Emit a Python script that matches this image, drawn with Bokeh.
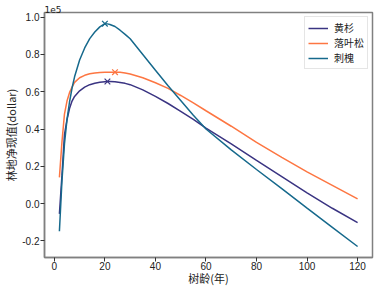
from bokeh.plotting import figure
from bokeh.models import Range1d, FixedTicker, CustomJSTickFormatter, Legend, LegendItem
from bokeh.embed import file_html
from bokeh.resources import INLINE

# ---- data (net present value of forest land, dollars) ----
ages = [2, 3, 4, 5, 6, 7, 8, 10, 12, 14, 16, 18, 20, 21, 22, 24, 26, 28, 30,
        35, 40, 45, 50, 55, 60, 70, 80, 90, 100, 110, 120]
huangshan = [-5500, 15000, 37000, 45000, 51000, 55000, 57500, 60500, 62500, 63800,
             64600, 65100, 65400, 65500, 65500, 65300, 65000, 64500, 63800,
             61000, 57500, 53700, 49500, 45200, 40500, 32000, 23200, 14500, 5800,
             -2500, -10200]
luoyesong = [14100, 33000, 48000, 55000, 59500, 62500, 65000, 67500, 68800, 69600,
             70000, 70300, 70400, 70450, 70500, 70500, 70400, 70000, 69500,
             67500, 64800, 61800, 58000, 54000, 49800, 41500, 32800, 24800, 17000,
             9800, 2500]
cihuai = [-14800, 12000, 32000, 45000, 54500, 62000, 68000, 77000, 83500, 88500,
          92000, 94800, 96500, 96400, 96100, 95000, 93000, 90800, 88400,
          80000, 71500, 63200, 55300, 47400, 40000, 28800, 18300, 8000, -2400,
          -12700, -23000]
peak_age = [21, 24, 20]
peak_val = [65500, 70500, 96500]

names = ["黄杉", "落叶松", "刺槐"]
colors = ["#3a3482", "#fd7642", "#16698c"]
y_ticks = [-20000, 0, 20000, 40000, 60000, 80000, 100000]
x_ticks = [0, 20, 40, 60, 80, 100, 120]

FONT = "Noto Sans CJK SC"
TICK_FONT = "Liberation Sans"

p = figure(width=375, height=288, output_backend="svg", toolbar_location=None,
           x_range=Range1d(-3.9, 125.9), y_range=Range1d(-28900, 102500),
           min_border_left=43, min_border_right=3, min_border_top=12,
           min_border_bottom=31, background_fill_color="white",
           border_fill_color="white")

p.title.text = "1e5"
p.title.align = "left"
p.title.text_font = "DejaVu Sans"
p.title.text_font_size = "9px"
p.title.text_font_style = "normal"
p.title.text_color = "#222222"
p.title.standoff = 0
p.title.offset = 0

p.xgrid.visible = False
p.ygrid.visible = False
p.outline_line_color = "#808080"
p.outline_line_width = 1.5

for ax in (p.xaxis[0], p.yaxis[0]):
    ax.axis_line_color = "#808080"
    ax.axis_line_width = 1.5
    ax.major_tick_line_color = "#333333"
    ax.major_tick_in = 0
    ax.major_tick_out = 4
    ax.minor_tick_line_color = None
    ax.major_label_text_font = TICK_FONT
    ax.major_label_text_font_size = "10px"
    ax.major_label_text_color = "#222222"
    ax.axis_label_text_font = FONT
    ax.axis_label_text_font_size = "11px"
    ax.axis_label_text_font_style = "normal"
    ax.axis_label_text_color = "#222222"

p.xaxis.major_label_standoff = 0
p.xaxis.axis_label_standoff = -3
p.yaxis.major_label_standoff = 1
p.yaxis.axis_label_standoff = 0

p.xaxis.ticker = FixedTicker(ticks=x_ticks)
p.yaxis.ticker = FixedTicker(ticks=y_ticks)
p.yaxis.formatter = CustomJSTickFormatter(code="return (tick/1e5).toFixed(1);")
p.xaxis.axis_label = "树龄(年)"
p.yaxis.axis_label = "林地净现值(dollar)"

items = []
for i, series in enumerate([huangshan, luoyesong, cihuai]):
    r = p.line(ages, series, line_color=colors[i], line_width=1.5)
    items.append(LegendItem(label=names[i], renderers=[r]))
    p.scatter([peak_age[i]], [peak_val[i]], marker="x", size=8,
              line_color=colors[i], line_width=1.2)

legend = Legend(items=items, location="top_right")
legend.label_text_font = FONT
legend.label_text_font_size = "10px"
legend.label_text_color = "#222222"
legend.glyph_width = 20
legend.glyph_height = 10
legend.label_height = 10
legend.label_standoff = 6
legend.spacing = 0
legend.padding = 3
legend.margin = 4
legend.border_line_color = "#cccccc"
legend.border_line_width = 1
legend.background_fill_alpha = 0.8
p.add_layout(legend)

open("out.html", "w").write(file_html(p, INLINE))
